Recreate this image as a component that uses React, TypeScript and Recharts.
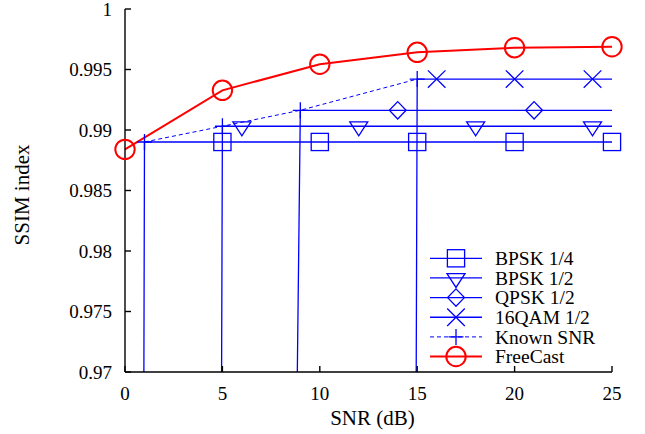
import { LineChart, Line, XAxis, YAxis, Legend } from "recharts";
import type { ReactElement } from "react";

// SNR (dB), one sample per dB
const snr = [0, 1, 2, 3, 4, 5, 6, 7, 8, 9, 10, 11, 12, 13, 14, 15, 16, 17, 18, 19, 20, 21, 22, 23, 24, 25];

// SSIM per scheme; below the decoding threshold the value drops far off the axis
const bpsk14 = [
  0.37, 0.98901, 0.98901, 0.98901, 0.98901, 0.98901, 0.98901, 0.98901, 0.98901, 0.98901, 0.98901, 0.98901, 0.98901,
  0.98901, 0.98901, 0.98901, 0.98901, 0.98901, 0.98901, 0.98901, 0.98901, 0.98901, 0.98901, 0.98901, 0.98901, 0.98901,
];
const bpsk12 = [
  null, null, null, null, 0.5, 0.99031, 0.99031, 0.99031, 0.99031, 0.99031, 0.99031, 0.99031, 0.99031,
  0.99031, 0.99031, 0.99031, 0.99031, 0.99031, 0.99031, 0.99031, 0.99031, 0.99031, 0.99031, 0.99031, 0.99031, 0.99031,
];
const qpsk12 = [
  null, null, null, null, null, null, null, null, 0.851, 0.99163, 0.99163, 0.99163, 0.99163,
  0.99163, 0.99163, 0.99163, 0.99163, 0.99163, 0.99163, 0.99163, 0.99163, 0.99163, 0.99163, 0.99163, 0.99163, 0.99163,
];
const qam16 = [
  null, null, null, null, null, null, null, null, null, null, null, null, null,
  null, 0.52, 0.99421, 0.99421, 0.99421, 0.99421, 0.99421, 0.99421, 0.99421, 0.99421, 0.99421, 0.99421, 0.99421,
];
const knownSnr = [
  null, 0.98901, null, null, null, 0.99031, null, null, null, 0.99163, null, null, null,
  null, null, 0.99421, null, null, null, null, null, null, null, null, null, null,
];
const freeCast = [
  0.9884, null, null, null, null, 0.99328, null, null, null, null, 0.99543, null, null,
  null, null, 0.99642, null, null, null, null, 0.9968, null, null, null, null, 0.99688,
];

const xTicks = [0, 5, 10, 15, 20, 25];
const yTicks = [0.97, 0.975, 0.98, 0.985, 0.99, 0.995, 1];

const FONT = "'Liberation Serif', 'Times New Roman', serif";
const BLUE = "#0000ff";
const RED = "#ff0000";

type Shape = "square" | "triangle" | "diamond" | "cross" | "plus" | "circle";

type Series = {
  key: string;
  name: string;
  values: (number | null)[];
  shape: Shape;
  every: number; // gnuplot-style point interval
  color: string;
  width: number;
  dash?: string;
};

const series: Series[] = [
  { key: "bpsk14", name: "BPSK 1/4", values: bpsk14, shape: "square", every: 5, color: BLUE, width: 1.3 },
  { key: "bpsk12", name: "BPSK 1/2", values: bpsk12, shape: "triangle", every: 6, color: BLUE, width: 1.3 },
  { key: "qpsk12", name: "QPSK 1/2", values: qpsk12, shape: "diamond", every: 7, color: BLUE, width: 1.3 },
  { key: "qam16", name: "16QAM 1/2", values: qam16, shape: "cross", every: 4, color: BLUE, width: 1.3 },
  { key: "known", name: "Known SNR", values: knownSnr, shape: "plus", every: 1, color: BLUE, width: 1, dash: "4 3" },
  { key: "freecast", name: "FreeCast", values: freeCast, shape: "circle", every: 1, color: RED, width: 2 },
];

const rows = snr.map((x, i) => {
  const row: Record<string, number | null> = { x };
  series.forEach((s) => {
    const v = s.values[i];
    row[s.key] = v;
    row[s.key + "Mark"] = v != null && v >= yTicks[0] && i % s.every === 0 ? v : null;
  });
  return row;
});

const Marker = ({ shape, cx, cy, color }: { shape: Shape; cx: number; cy: number; color: string }) => {
  const common = { fill: "none", stroke: color, strokeWidth: shape === "circle" ? 2 : 1.3 };
  switch (shape) {
    case "square":
      return <rect x={cx - 8.6} y={cy - 8.6} width={17.2} height={17.2} {...common} />;
    case "triangle":
      return <polygon points={`${cx - 9},${cy - 4.3} ${cx + 9},${cy - 4.3} ${cx},${cy + 9.5}`} {...common} />;
    case "diamond":
      return <polygon points={`${cx},${cy - 8.7} ${cx + 8.4},${cy} ${cx},${cy + 8.7} ${cx - 8.4},${cy}`} {...common} />;
    case "cross":
      return <path d={`M${cx - 8.8},${cy - 8.7}L${cx + 8.8},${cy + 8.7}M${cx - 8.8},${cy + 8.7}L${cx + 8.8},${cy - 8.7}`} {...common} />;
    case "plus":
      return <path d={`M${cx - 7.5},${cy}L${cx + 7.5},${cy}M${cx},${cy - 8}L${cx},${cy + 8}`} {...common} />;
    default:
      return <circle cx={cx} cy={cy} r={9.7} {...common} />;
  }
};

const LegendBox = () => (
  <svg width={190} height={120} style={{ display: "block", overflow: "visible" }}>
    {series.map((s, i) => {
      const y = 10.3 + i * 19.65;
      return (
        <g key={s.key}>
          <line x1={2} x2={54} y1={y} y2={y} stroke={s.color} strokeWidth={s.width} strokeDasharray={s.dash} />
          <Marker shape={s.shape} cx={28} cy={y} color={s.color} />
          <text x={67} y={y + 6.7} fontFamily={FONT} fontSize={19.5} fill="#000">
            {s.name}
          </text>
        </g>
      );
    })}
  </svg>
);

const XTitle = (props: any) => {
  const { x, y, width } = props.viewBox;
  return (
    <text x={x + width / 2 + 4} y={y + 53} textAnchor="middle" fontFamily={FONT} fontSize={21} fill="#000">
      SNR (dB)
    </text>
  );
};

const YTitle = (props: any) => {
  const { y, height } = props.viewBox;
  const cx = 28.5;
  const cy = y + height / 2 + 4.5;
  return (
    <text x={cx} y={cy} transform={`rotate(-90 ${cx} ${cy})`} textAnchor="middle" fontFamily={FONT} fontSize={21} fill="#000">
      SSIM index
    </text>
  );
};

const tickStyle = { fill: "#000", fontSize: 19, fontFamily: FONT };
const axisLine = { stroke: "#000", strokeWidth: 1.4 };

export default function App() {
  return (
    <div style={{ position: "absolute", left: 0, top: 0, background: "#fff" }}>
      <LineChart width={645} height={434} data={rows} margin={{ top: 9, right: 33, bottom: 0, left: 0 }}>
        <XAxis
          type="number"
          dataKey="x"
          domain={[0, 25]}
          ticks={xTicks}
          interval={0}
          height={62}
          tickSize={-6}
          tickMargin={20.5}
          tick={tickStyle}
          axisLine={axisLine}
          tickLine={axisLine}
          label={XTitle}
        />
        <XAxis
          xAxisId="top"
          orientation="top"
          type="number"
          dataKey="x"
          domain={[0, 25]}
          ticks={xTicks}
          interval={0}
          height={0}
          tickSize={-6}
          tick={false}
          axisLine={axisLine}
          tickLine={axisLine}
        />
        <YAxis
          yAxisId="left"
          type="number"
          domain={[0.97, 1]}
          ticks={yTicks}
          interval={0}
          allowDataOverflow
          width={125}
          tickSize={-6}
          tickMargin={19}
          tick={tickStyle}
          tickFormatter={(v: number) => String(v)}
          axisLine={axisLine}
          tickLine={axisLine}
          label={YTitle}
        />
        <YAxis
          yAxisId="right"
          orientation="right"
          type="number"
          domain={[0.97, 1]}
          ticks={yTicks}
          interval={0}
          width={0}
          tickSize={-6}
          tick={false}
          axisLine={axisLine}
          tickLine={axisLine}
        />
        {series.flatMap((s): ReactElement[] => [
          <Line
            key={s.key}
            yAxisId="left"
            type="linear"
            dataKey={s.key}
            stroke={s.color}
            strokeWidth={s.width}
            strokeDasharray={s.dash}
            connectNulls
            dot={false}
            activeDot={false}
            legendType="none"
            isAnimationActive={false}
          />,
          <Line
            key={s.key + "Mark"}
            yAxisId="right"
            type="linear"
            dataKey={s.key + "Mark"}
            stroke="none"
            dot={(p: any) =>
              p.cy == null || Number.isNaN(p.cy) ? null : (
                <Marker key={`${s.key}-${p.index}`} shape={s.shape} cx={p.cx} cy={p.cy} color={s.color} />
              )
            }
            activeDot={false}
            legendType="none"
            isAnimationActive={false}
          />,
        ])}
        <Legend
          layout="vertical"
          align="center"
          verticalAlign="middle"
          content={LegendBox}
          wrapperStyle={{ left: 428, top: 248, width: 190, height: 120 }}
        />
      </LineChart>
    </div>
  );
}
